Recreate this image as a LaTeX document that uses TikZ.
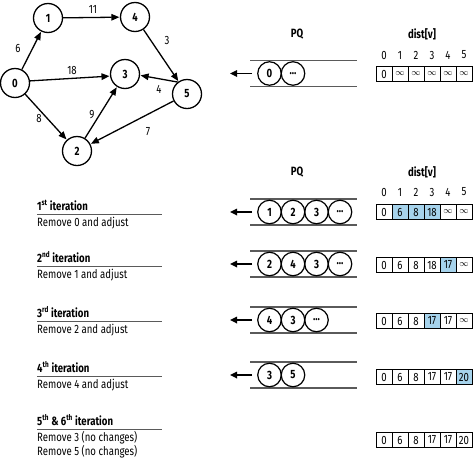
\documentclass[tikz,border=0pt]{standalone}
\usepackage{fontspec}
\setmainfont{Fira Sans}[FakeStretch=0.8]
\usetikzlibrary{arrows.meta}
\definecolor{hlblue}{RGB}{166,211,236}
\definecolor{rulegray}{RGB}{90,90,90}

\newcommand{\qdots}{...}
\newcommand{\iy}{{\fontsize{9}{10}\selectfont$\infty$}}
\newcommand{\lbfont}{\fontsize{12}{14}\selectfont}

% priority queue: name, y, items
\newcommand{\pqrow}[3]{%
  \draw [pqline] (250,#2-13) -- (357,#2-13);
  \draw [pqline] (250,#2+13) -- (357,#2+13);
  \foreach \v [count=\k from 0] in {#3}
    \node [qitem] (#1-\k) at (269.5+23.5*\k,#2) {\v};
  \coordinate (#1-tip) at (230,#2);
  \draw [pqarrow] ([xshift=-5pt]#1-0.west) -- (#1-tip);
}
% dist array: name, y, value/fill
\newcommand{\distrow}[3]{%
  \foreach \v/\c [count=\k from 0] in {#3}
    \node [cell, fill=\c] (#1-\k) at (384+16*\k,#2) {\v};
}
% iteration text: name, rule y, heading, text
\newcommand{\iterlabel}[4]{%
  \node [ihead] (#1-h) at (37,#2-4) {#3};
  \draw [rule] (37,#2) -- (162,#2);
  \node [itext] (#1-t) at (37,#2+12.5) {#4};
}

\begin{document}
\begin{tikzpicture}[x=1pt, y=-1pt,
    vertex/.style={draw, circle, line width=1.3pt, minimum size=29pt, inner sep=0pt, font=\bfseries\lbfont},
    edge/.style={-{Triangle[length=8pt,width=6.5pt]}, line width=1.3pt, shorten >=0.5pt},
    wlabel/.style={font=\lbfont},
    qitem/.style={draw, circle, line width=1.2pt, minimum size=23.5pt, inner sep=0pt, font=\bfseries\lbfont},
    pqline/.style={rulegray, line width=1.3pt},
    pqarrow/.style={-{Triangle[length=7pt,width=6.5pt]}, line width=1.6pt},
    cell/.style={draw, line width=0.7pt, minimum width=16pt, minimum height=15pt, inner sep=0pt, outer sep=0pt, font=\lbfont},
    idx/.style={font=\lbfont},
    head/.style={font=\bfseries\lbfont},
    ihead/.style={anchor=base west, inner sep=0pt, font=\bfseries\lbfont},
    itext/.style={anchor=base west, inner sep=0pt, font=\lbfont},
    rule/.style={rulegray, line width=1pt}]
  \useasboundingbox (0,0) rectangle (473,461);

  % graph
  \node [vertex] (g0) at (15,83) {0};
  \node [vertex] (g1) at (48,18) {1};
  \node [vertex] (g4) at (135,17) {4};
  \node [vertex] (g3) at (125,74) {3};
  \node [vertex] (g5) at (187,94) {5};
  \node [vertex] (g2) at (77,151) {2};
  \draw [edge] (g0) -- (g1);
  \draw [edge] (g1) -- (g4);
  \draw [edge] (g4) -- (g5);
  \draw [edge] (g0.8) -- (g3.188);
  \draw [edge] (g5.128) -- (g3.355);
  \draw [edge] (g0) -- (g2);
  \draw [edge] (g2) -- (g3);
  \draw [edge] (g5) -- (g2);
  \node [wlabel] (w01) at (18,48) {6};
  \node [wlabel] (w14) at (93,9) {11};
  \node [wlabel] (w45) at (167,40) {3};
  \node [wlabel] (w03) at (72,70) {18};
  \node [wlabel] (w53) at (159,89) {4};
  \node [wlabel] (w02) at (39,118) {8};
  \node [wlabel] (w23) at (92,115) {9};
  \node [wlabel] (w52) at (148,132) {7};

  % column headings
  \node [head] (pqa) at (297,34) {PQ};
  \node [head] (dva) at (422,34) {dist[v]};
  \node [head] (pqb) at (297,172) {PQ};
  \node [head] (dvb) at (422,172) {dist[v]};
  \foreach \i in {0,...,5} {
    \node [idx] (ia\i) at (384+16*\i,55) {\i};
    \node [idx] (ib\i) at (384+16*\i,192) {\i};
  }

  % start
  \pqrow{q0}{73.5}{0,\qdots}
  \distrow{d0}{74}{0/white,\iy/white,\iy/white,\iy/white,\iy/white,\iy/white}

  % iterations
  \iterlabel{it1}{214}{1\textsuperscript{st} iteration}{Remove 0 and adjust}
  \pqrow{q1}{212}{1,2,3,\qdots}
  \distrow{d1}{212}{0/white,6/hlblue,8/hlblue,18/hlblue,\iy/white,\iy/white}

  \iterlabel{it2}{266}{2\textsuperscript{nd} iteration}{Remove 1 and adjust}
  \pqrow{q2}{264}{2,4,3,\qdots}
  \distrow{d2}{265}{0/white,6/white,8/white,18/white,17/hlblue,\iy/white}

  \iterlabel{it3}{321}{3\textsuperscript{rd} iteration}{Remove 2 and adjust}
  \pqrow{q3}{320}{4,3,\qdots}
  \distrow{d3}{321}{0/white,6/white,8/white,17/hlblue,17/white,\iy/white}

  \iterlabel{it4}{376}{4\textsuperscript{th} iteration}{Remove 4 and adjust}
  \pqrow{q4}{375}{3,5}
  \distrow{d4}{377}{0/white,6/white,8/white,17/white,17/white,20/hlblue}

  \iterlabel{it5}{429}{5\textsuperscript{th} \& 6\textsuperscript{th} iteration}{Remove 3 (no changes)}
  \node [itext] (it5-u) at (37,455.5) {Remove 5 (no changes)};
  \distrow{d5}{440}{0/white,6/white,8/white,17/white,17/white,20/white}
\end{tikzpicture}
\end{document}
